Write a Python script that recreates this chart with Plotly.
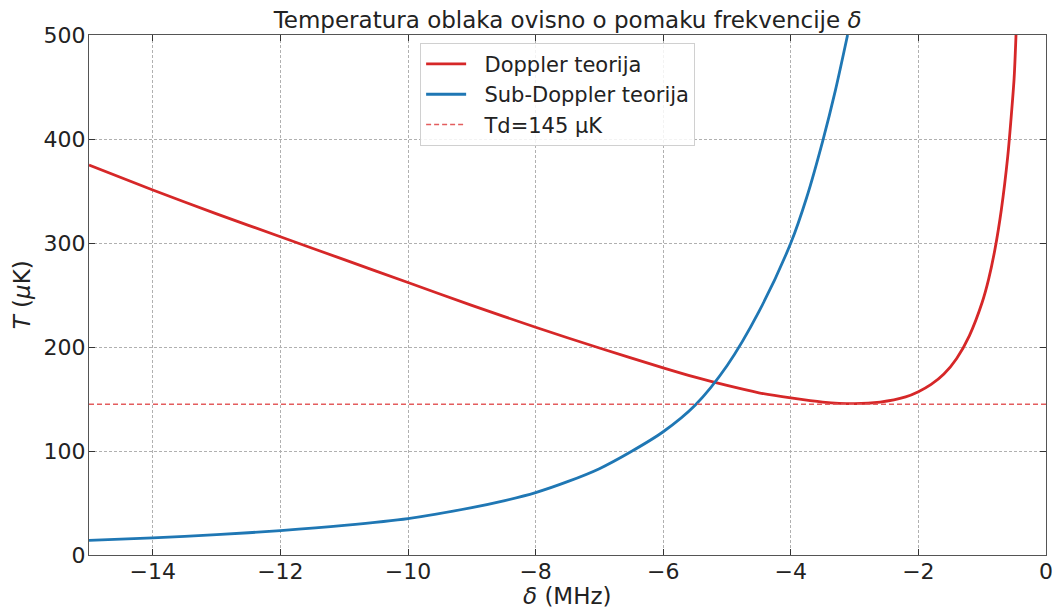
import plotly.graph_objects as go

# Doppler theory curve (delta in MHz, T in microkelvin)
doppler_delta = [-15, -14, -13, -12, -11, -10, -9, -8, -7, -6, -5.5, -5, -4.5, -4, -3.5, -3,
                 -2.6, -2.2, -2, -1.8, -1.6, -1.4, -1.2, -1.0, -0.9, -0.8, -0.7, -0.6, -0.55,
                 -0.5, -0.47]
doppler_T = [375, 351, 328, 306, 284, 262, 240, 219, 199, 180, 171, 163, 156, 151, 147, 145.5,
             147, 152, 157, 164, 174, 189, 211, 243, 265, 294, 332, 383, 418, 458, 500]

# Sub-Doppler theory curve
sub_delta = [-15, -14, -13, -12, -11, -10, -9, -8.5, -8, -7.5, -7, -6.5, -6, -5.5, -5, -4.5,
             -4, -3.75, -3.5, -3.3, -3.11]
sub_T = [14, 16.5, 19.5, 23.5, 28.5, 35, 45.5, 52, 60, 70.5, 83, 99.5, 118.5, 144, 182, 234,
         300, 344, 398, 447, 500]

# Doppler limit
td_value = 145
td_delta = [-15, 0]

FONT = "DejaVu Sans"
TXT = "#222222"
PAD = "\u00a0\u00a0"

fig = go.Figure()
fig.add_trace(go.Scatter(x=doppler_delta, y=doppler_T, mode="lines", name=PAD + "Doppler teorija",
                         line=dict(color="#d62728", width=2.8, shape="spline", smoothing=0.8),
                         legendgroup="a"))
fig.add_trace(go.Scatter(x=sub_delta, y=sub_T, mode="lines", name=PAD + "Sub-Doppler teorija",
                         line=dict(color="#1f77b4", width=2.8, shape="spline", smoothing=0.8),
                         legendgroup="b"))
fig.add_trace(go.Scatter(x=td_delta, y=[td_value] * len(td_delta), mode="lines",
                         name=PAD + "Td=145 µK",
                         line=dict(color="#e35d5e", width=1.5, dash="5px,3px"),
                         legendgroup="c"))

fig.update_layout(
    width=1055, height=610,
    margin=dict(l=89, r=9, t=35, b=55, autoexpand=False),
    paper_bgcolor="white", plot_bgcolor="white",
    font=dict(family=FONT, color=TXT),
    title=dict(text="Temperatura oblaka ovisno o pomaku frekvencije <i>δ</i>",
               x=0.538, xanchor="center", y=0.967, yanchor="middle",
               font=dict(size=23, family=FONT, color=TXT)),
    legend=dict(x=0.346, xanchor="left", y=0.985, yanchor="top",
                bgcolor="rgba(255,255,255,0.85)", bordercolor="#d0d0d0", borderwidth=1,
                font=dict(size=21, family=FONT, color=TXT),
                tracegroupgap=0, itemwidth=40),
    showlegend=True,
    annotations=[
        dict(text="<i>δ</i> (MHz)", xref="paper", yref="paper", x=0.5, y=-0.078,
             xanchor="center", yanchor="middle", showarrow=False,
             font=dict(size=23, family=FONT, color=TXT)),
        dict(text="<i>T</i> (<i>μ</i>K)", xref="paper", yref="paper", x=-0.0697, y=0.5,
             xanchor="center", yanchor="middle", showarrow=False, textangle=-90,
             font=dict(size=23, family=FONT, color=TXT)),
    ],
)

fig.update_xaxes(
    range=[-15, 0], dtick=2, tick0=0, automargin=False,
    showgrid=True, gridcolor="#b0b0b0", griddash="3px,2px", gridwidth=0.8,
    zeroline=False,
    showline=True, linecolor="#555555", linewidth=1.2, mirror="ticks",
    ticks="inside", ticklen=6, tickcolor="#333333",
    ticklabelstandoff=-4, ticklabeloverflow="allow",
    tickfont=dict(size=22, family=FONT, color=TXT),
)
fig.update_yaxes(
    range=[0, 500], dtick=100, automargin=False,
    showgrid=True, gridcolor="#b0b0b0", griddash="3px,2px", gridwidth=0.8,
    zeroline=False,
    showline=True, linecolor="#555555", linewidth=1.2, mirror="ticks",
    ticks="inside", ticklen=6, tickcolor="#333333",
    ticklabelstandoff=-2, ticklabeloverflow="allow",
    tickfont=dict(size=22, family=FONT, color=TXT),
)

fig.write_html("out.html",
               config={"displayModeBar": False},
               post_script="document.body.style.margin='0';document.body.style.overflow='hidden';")
